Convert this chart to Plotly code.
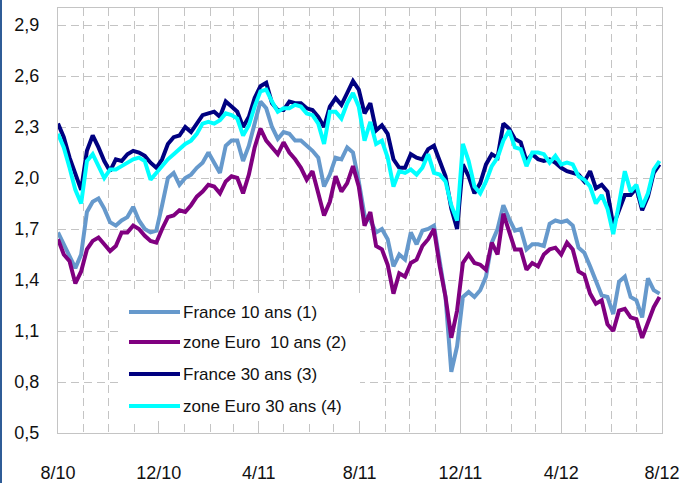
import pandas as pd
import plotly.graph_objects as go

# Weekly observations, Aug 2010 -> Jul 2012
dates = pd.date_range("2010-08-01", periods=105, freq="7D")

france_10 = [1.68, 1.61, 1.55, 1.47, 1.55, 1.80, 1.86, 1.88, 1.82, 1.74,
             1.72, 1.75, 1.77, 1.83, 1.75, 1.70, 1.68, 1.69, 1.84, 2.00,
             2.03, 1.96, 2.00, 2.02, 2.06, 2.09, 2.15, 2.09, 2.03, 2.19,
             2.22, 2.22, 2.10, 2.19, 2.32, 2.45, 2.41, 2.30, 2.23, 2.27,
             2.26, 2.22, 2.22, 2.19, 2.16, 2.12, 1.95, 2.02, 2.12, 2.11,
             2.18, 2.15, 1.98, 1.78, 1.75, 1.68, 1.70, 1.64, 1.48, 1.55,
             1.52, 1.68, 1.61, 1.69, 1.70, 1.72, 1.52, 1.30, 0.86, 1.01,
             1.30, 1.33, 1.30, 1.34, 1.42, 1.62, 1.70, 1.84, 1.76, 1.69,
             1.70, 1.58, 1.61, 1.61, 1.60, 1.73, 1.75, 1.74, 1.75, 1.72,
             1.59, 1.56, 1.48, 1.39, 1.31, 1.30, 1.20, 1.39, 1.42, 1.30,
             1.28, 1.18, 1.41, 1.34, 1.32]

euro_10 = [1.64, 1.55, 1.51, 1.38, 1.45, 1.58, 1.63, 1.65, 1.61, 1.57,
           1.60, 1.68, 1.68, 1.72, 1.70, 1.66, 1.63, 1.62, 1.70, 1.77,
           1.78, 1.81, 1.80, 1.84, 1.89, 1.92, 1.96, 1.95, 1.91, 1.98,
           2.01, 2.00, 1.91, 2.02, 2.18, 2.29, 2.22, 2.18, 2.14, 2.21,
           2.15, 2.11, 2.06, 1.99, 2.04, 1.91, 1.78, 1.86, 2.01, 1.92,
           1.97, 2.07, 1.95, 1.72, 1.80, 1.60, 1.58, 1.49, 1.32, 1.44,
           1.42, 1.50, 1.52, 1.60, 1.64, 1.70, 1.48, 1.30, 1.06, 1.22,
           1.50, 1.55, 1.50, 1.49, 1.46, 1.62, 1.55, 1.79, 1.68, 1.58,
           1.58, 1.46, 1.50, 1.48, 1.55, 1.58, 1.59, 1.55, 1.62, 1.58,
           1.45, 1.43, 1.32, 1.26, 1.28, 1.14, 1.10, 1.22, 1.23, 1.18,
           1.17, 1.06, 1.15, 1.24, 1.30]

france_30 = [2.32, 2.24, 2.12, 2.03, 1.93, 2.16, 2.25, 2.18, 2.10, 2.04,
             2.11, 2.10, 2.14, 2.16, 2.15, 2.13, 2.09, 2.06, 2.11, 2.20,
             2.24, 2.25, 2.30, 2.27, 2.32, 2.37, 2.38, 2.39, 2.36, 2.45,
             2.42, 2.39, 2.30, 2.36, 2.47, 2.54, 2.56, 2.44, 2.40, 2.40,
             2.45, 2.44, 2.44, 2.41, 2.40, 2.36, 2.30, 2.42, 2.47, 2.43,
             2.50, 2.57, 2.52, 2.38, 2.44, 2.28, 2.31, 2.26, 2.11, 2.06,
             2.06, 2.14, 2.12, 2.11, 2.17, 2.19, 2.10, 2.01, 1.82, 1.70,
             2.08, 2.01, 1.91, 1.97, 2.08, 2.14, 2.12, 2.32, 2.29, 2.23,
             2.21, 2.10, 2.14, 2.11, 2.10, 2.11, 2.09, 2.06, 2.04, 2.03,
             2.02, 1.98, 2.04, 1.94, 1.96, 1.92, 1.72, 1.81, 1.90, 1.90,
             1.94, 1.81, 1.89, 2.03, 2.08]

euro_30 = [2.26, 2.18, 2.06, 1.93, 1.85, 2.10, 2.14, 2.07, 2.00, 2.05,
           2.05, 2.07, 2.09, 2.11, 2.12, 2.10, 1.99, 2.03, 2.07, 2.11,
           2.14, 2.17, 2.20, 2.22, 2.26, 2.32, 2.33, 2.32, 2.34, 2.38,
           2.37, 2.35, 2.25, 2.31, 2.42, 2.51, 2.52, 2.45, 2.39, 2.41,
           2.41, 2.43, 2.42, 2.38, 2.37, 2.32, 2.20, 2.39, 2.39, 2.35,
           2.44, 2.50, 2.42, 2.22, 2.33, 2.20, 2.22, 2.12, 1.95, 2.04,
           2.03, 2.05, 2.02, 2.06, 2.14, 2.03, 2.02, 1.98, 1.84, 1.75,
           2.20, 2.10, 1.95, 1.91, 1.98, 2.07, 2.12, 2.22, 2.28, 2.18,
           2.17, 2.07, 2.15, 2.15, 2.14, 2.09, 2.13, 2.08, 2.09, 2.08,
           2.01, 1.99, 1.95, 1.85, 1.90, 1.82, 1.67, 1.85, 2.04, 1.92,
           1.96, 1.83, 1.91, 2.05, 2.10]

series_names = ["France 10 ans (1)", "zone Euro  10 ans (2)",
                "France 30 ans (3)", "zone Euro 30 ans (4)"]
series_values = [france_10, euro_10, france_30, euro_30]
series_colors = ["#6699CC", "#800080", "#000080", "#00FFFF"]

x_tick_dates = ["2010-08-01", "2010-12-01", "2011-04-01", "2011-08-01",
                "2011-12-01", "2012-04-01", "2012-08-01"]
x_tick_labels = ["8/10", "12/10", "4/11", "8/11", "12/11", "4/12", "8/12"]
y_ticks = [0.5, 0.8, 1.1, 1.4, 1.7, 2.0, 2.3, 2.6, 2.9]

FONT = "Liberation Sans, Arial, sans-serif"
GRID = "#C4C4C4"
TXT = "#111111"

fig = go.Figure()
for name, vals, col in zip(series_names, series_values, series_colors):
    fig.add_trace(go.Scatter(x=dates, y=vals, mode="lines", name=name,
                             line=dict(color=col, width=4),
                             showlegend=False))

# custom legend (long line samples as in the original)
W, H = 604.0, 425.0
def px_x(p):
    return (p - 58) / W
def px_y(p):
    return (433 - p) / H

shapes = [dict(type="rect", xref="paper", yref="paper",
               x0=px_x(123), x1=px_x(360), y0=px_y(421), y1=px_y(293),
               fillcolor="white", line=dict(width=0), layer="above")]
annotations = []
rows = [312, 342, 374, 406]
for name, col, ry in zip(series_names, series_colors, rows):
    shapes.append(dict(type="line", xref="paper", yref="paper",
                       x0=px_x(129), x1=px_x(180), y0=px_y(ry), y1=px_y(ry),
                       line=dict(color=col, width=4), layer="above"))
    annotations.append(dict(xref="paper", yref="paper", x=px_x(181), y=px_y(ry),
                            text=name, showarrow=False, xanchor="left",
                            yanchor="middle",
                            font=dict(family=FONT, size=17, color=TXT)))

# blue frame line at the left edge of the picture
shapes.append(dict(type="line", xref="paper", yref="paper",
                   x0=px_x(1), x1=px_x(1), y0=px_y(0), y1=px_y(483),
                   line=dict(color="#2F5C97", width=2), layer="above"))

fig.update_layout(
    width=681, height=483,
    margin=dict(l=58, r=19, t=8, b=50, autoexpand=False),
    paper_bgcolor="white", plot_bgcolor="white",
    separators=", ",
    font=dict(family=FONT, size=18, color=TXT),
    shapes=shapes, annotations=annotations,
    showlegend=False,
)
fig.update_xaxes(
    type="date", range=["2010-08-01", "2012-08-01"],
    tickvals=x_tick_dates, ticktext=x_tick_labels,
    ticks="", ticklabelstandoff=23, automargin=False,
    ticklabeloverflow="allow",
    showgrid=True, gridcolor=GRID, gridwidth=1,
    minor=dict(dtick="M1", tick0="2010-08-01", showgrid=True,
               gridcolor=GRID, griddash="8px,5px", gridwidth=1, ticks=""),
    showline=True, linecolor=GRID, linewidth=1, mirror=True,
    zeroline=False,
    tickfont=dict(family=FONT, size=18, color=TXT),
)
fig.update_yaxes(
    range=[0.5, 3.0], tickvals=y_ticks, tickformat=".1f",
    ticks="", ticklabelstandoff=14, automargin=False,
    showgrid=True, gridcolor=GRID, griddash="8px,5px", gridwidth=1,
    showline=True, linecolor=GRID, linewidth=1, mirror=True,
    zeroline=False,
    tickfont=dict(family=FONT, size=18, color=TXT),
)

fig.write_html("out.html",
               config={"displayModeBar": False},
               post_script="document.body.style.margin='0';"
                           "document.body.style.overflow='hidden';")
